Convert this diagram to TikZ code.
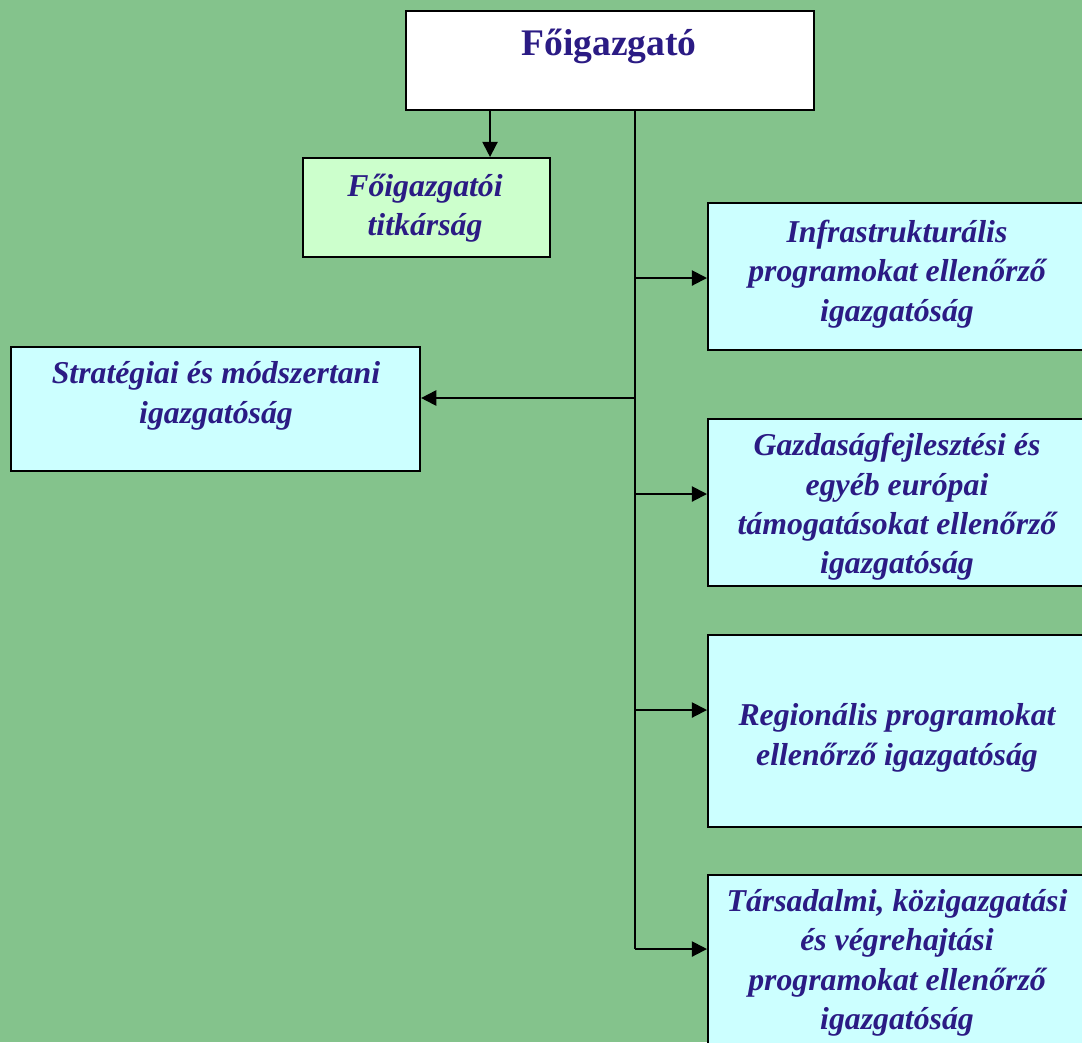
\documentclass[tikz,border=0pt]{standalone}
\usepackage{fontspec}
\setmainfont{Liberation Serif}
\usetikzlibrary{arrows.meta}
\definecolor{bggreen}{HTML}{84C38C}
\definecolor{boxcyan}{HTML}{CCFFFF}
\definecolor{boxmint}{HTML}{CCFFCC}
\definecolor{inkblue}{HTML}{2B1B84}

\begin{document}
\begin{tikzpicture}[x=0.025cm,y=-0.025cm,
  box/.style={draw=black,line width=1.4pt,rectangle,anchor=north west,inner sep=0pt},
  unit/.style={text=inkblue,align=center,font=\fontsize{22.6}{28}\selectfont\bfseries\itshape},
  conn/.style={line width=1.4pt},
  arr/.style={line width=1.4pt,-{Triangle[length=0.38cm,width=0.38cm]}}]
\fill[bggreen] (0,0) rectangle (1082,1042);
\clip (0,0) rectangle (1082,1042);
% boxes
\node[box,fill=white,minimum width=10.2cm,minimum height=2.475cm] (top) at (405,10) {};
\node[box,fill=boxmint,minimum width=6.175cm,minimum height=2.475cm] (titk) at (302,157) {};
\node[box,fill=boxcyan,minimum width=9.5cm,minimum height=3.675cm] (infra) at (707,202) {};
\node[box,fill=boxcyan,minimum width=10.225cm,minimum height=3.1cm] (strat) at (10,346) {};
\node[box,fill=boxcyan,minimum width=9.5cm,minimum height=4.175cm] (gazd) at (707,418) {};
\node[box,fill=boxcyan,minimum width=9.5cm,minimum height=4.8cm] (regio) at (707,634) {};
\node[box,fill=boxcyan,minimum width=9.5cm,minimum height=4.5cm] (tars) at (707,874) {};
% texts
\node[text=inkblue,font=\fontsize{26.7}{32}\selectfont\bfseries,anchor=base] (top-t) at (609,55) {Főigazgató};
\node[unit] (titk-t) at (425,208) {Főigazgatói\\titkárság};
\node[unit] (infra-t) at (897,274) {Infrastrukturális\\programokat ellenőrző\\igazgatóság};
\node[unit] (strat-t) at (216,396) {Stratégiai és módszertani\\igazgatóság};
\node[unit] (gazd-t) at (897,507) {Gazdaságfejlesztési és\\egyéb európai\\támogatásokat ellenőrző\\igazgatóság};
\node[unit] (regio-t) at (897,738) {Regionális programokat\\ellenőrző igazgatóság};
\node[unit] (tars-t) at (897,963) {Társadalmi, közigazgatási\\és végrehajtási\\programokat ellenőrző\\igazgatóság};
% connectors
\coordinate (j1) at (635,278);
\coordinate (j2) at (635,398);
\coordinate (j3) at (635,494);
\coordinate (j4) at (635,710);
\coordinate (j5) at (635,949);
\draw[arr] ([xshift=2.125cm]top.south west) -- ([xshift=2.125cm]top.south west |- titk.north);
\draw[conn] (top.south -| j1) -- (j5);
\draw[arr] (j1) -- (j1 -| infra.west);
\draw[arr] (j2) -- (j2 -| strat.east);
\draw[arr] (j3) -- (j3 -| gazd.west);
\draw[arr] (j4) -- (j4 -| regio.west);
\draw[arr] (j5) -- (j5 -| tars.west);
\end{tikzpicture}
\end{document}
